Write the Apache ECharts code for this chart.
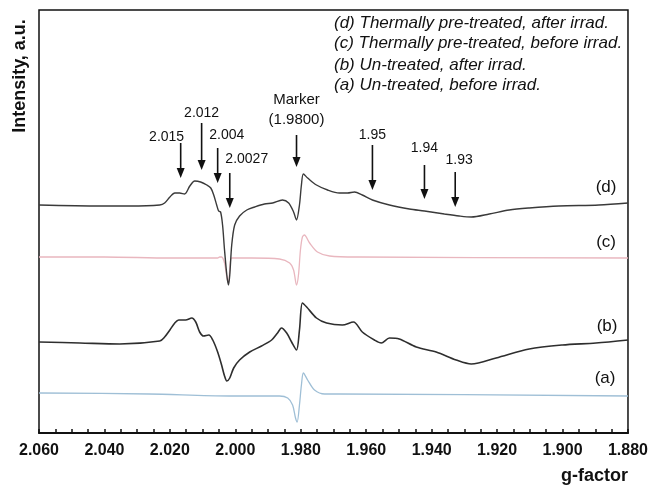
<!DOCTYPE html>
<html><head><meta charset="utf-8">
<script src="https://cdn.jsdelivr.net/npm/echarts@6/dist/echarts.min.js"></script>
<style>html,body{margin:0;padding:0;background:#fff}#c{width:651px;height:489px}</style>
</head><body><div id="c"></div>
<script>
// g-factor axis ticks
const xTicks = [2.060, 2.040, 2.020, 2.000, 1.980, 1.960, 1.940, 1.920, 1.900, 1.880];

// (d) Thermally pre-treated, after irrad.
const gD = [2.060, 2.0414, 2.0322, 2.0231, 2.0216, 2.0200, 2.0185, 2.0170, 2.0155, 2.0139, 2.0124, 2.0106, 2.0087, 2.0075, 2.0066, 2.0057, 2.0051, 2.0045, 2.0039, 2.0033, 2.0026, 2.0021, 2.0017, 2.0011, 2.0002, 1.9987, 1.9965, 1.9941, 1.9911, 1.9886, 1.9856, 1.9837, 1.9822, 1.9813, 1.9804, 1.9798, 1.9792, 1.9779, 1.9752, 1.9718, 1.9682, 1.9657, 1.9636, 1.9612, 1.9581, 1.9529, 1.9468, 1.9422, 1.9361, 1.9316, 1.9279, 1.9224, 1.9163, 1.9102, 1.9011, 1.8889, 1.880];
const vD = [228, 227, 227, 228, 230, 236, 240, 240, 239, 247, 252, 251, 248, 245, 238, 228, 222, 221, 208, 183, 158, 148, 158, 188, 208, 217, 223, 226, 229, 230, 233, 230, 221, 213, 228, 248, 259, 255, 248, 243, 240, 240, 241, 238, 233, 228, 224, 222, 219, 217, 216, 219, 223, 225, 227, 228, 230];

// (c) Thermally pre-treated, before irrad.
const gC = [2.060, 2.040, 2.020, 2.0063, 2.0054, 2.0048, 2.0042, 2.0033, 2.0026, 2.0021, 2.0017, 2.0011, 1.9950, 1.9865, 1.9834, 1.9822, 1.9813, 1.9807, 1.9801, 1.9795, 1.9789, 1.9773, 1.9749, 1.9712, 1.9620, 1.880];
const vC = [176, 176, 175, 175, 175, 176, 176, 170, 156, 150, 163, 175, 175, 174, 170, 163, 148, 158, 183, 196, 198, 190, 181, 177, 176, 175];

// (b) Un-treated, after irrad.
const gB = [2.060, 2.0475, 2.0353, 2.0231, 2.0216, 2.0200, 2.0185, 2.0173, 2.0152, 2.0133, 2.0121, 2.0109, 2.0097, 2.0081, 2.0069, 2.0054, 2.0042, 2.0033, 2.0026, 2.0017, 2.0005, 1.9987, 1.9956, 1.9920, 1.9889, 1.9871, 1.9859, 1.9843, 1.9828, 1.9813, 1.9804, 1.9795, 1.9782, 1.9752, 1.9721, 1.9673, 1.9639, 1.9612, 1.9575, 1.9554, 1.9529, 1.9499, 1.9447, 1.9386, 1.9325, 1.9279, 1.9203, 1.9102, 1.9001, 1.8898, 1.880];
const vB = [91, 90, 89, 92, 96, 103, 110, 113, 113, 115, 111, 101, 97, 98, 93, 81, 68, 57, 52, 55, 65, 73, 81, 87, 93, 100, 105, 100, 91, 83, 103, 130, 126, 115, 110, 108, 111, 101, 93, 90, 95, 94, 86, 81, 73, 69, 75, 84, 88, 90, 93];

// (a) Un-treated, before irrad.
const gA = [2.060, 2.0264, 2.0020, 1.9865, 1.9840, 1.9825, 1.9816, 1.9811, 1.9804, 1.9798, 1.9792, 1.9779, 1.9758, 1.9727, 1.9682, 1.880];
const vA = [40, 39, 37, 37, 35, 28, 15, 11, 28, 48, 60, 53, 43, 39, 39, 37];

// annotation arrows (g position, arrow top, arrow tip) and their labels
const arrowG = [2.0167, 2.0103, 2.0054, 2.0017, 1.9813, 1.9581, 1.9422, 1.9328];
const arrowTop = [290, 310, 285, 260, 298, 288, 268, 261];
const arrowTip = [255, 263, 250, 225, 266, 243, 234, 226];
const noteText = ['2.015', '2.012', '2.004', '2.0027', 'Marker\n(1.9800)', '1.95', '1.94', '1.93'];
const noteG = [2.0210, 2.0103, 2.0026, 1.9965, 1.9813, 1.9581, 1.9422, 1.9316];
const noteY = [296, 320, 298, 274, 323, 298, 285, 273];

// trace tags
const tagText = ['(d)', '(c)', '(b)', '(a)'];
const tagG = [1.8867, 1.8867, 1.8864, 1.8870];
const tagY = [246, 191, 107, 55];

const legendLines = [
  '(d) Thermally pre-treated, after irrad.',
  '(c) Thermally pre-treated, before irrad.',
  '(b) Un-treated, after irrad.',
  '(a) Un-treated, before irrad.'
];

const zip = (g, v) => g.map((x, i) => [x, v[i]]);
const chart = echarts.init(document.getElementById('c'), null, {renderer: 'canvas'});

function lineSeries(name, g, v, color, w) {
  return {
    name, type: 'line', data: zip(g, v), showSymbol: false, smooth: 0.3,
    lineStyle: {color, width: w}, silent: true, animation: false, z: 2
  };
}

const arrowData = arrowG.map((g, i) => [g, arrowTop[i], arrowTip[i], noteG[i], noteY[i]]);
const tagData = tagG.map((g, i) => [g, tagY[i]]);

chart.setOption({
  backgroundColor: '#fff',
  animation: false,
  grid: {left: 39, right: 22, top: 10, bottom: 56, show: true, borderColor: '#111', borderWidth: 1.5, containLabel: false},
  xAxis: {
    type: 'value', inverse: true, min: 1.880, max: 2.060, interval: 0.02,
    splitLine: {show: false},
    axisLine: {show: true, lineStyle: {color: '#111', width: 2}},
    axisTick: {show: true, inside: true, length: 4, lineStyle: {color: '#111', width: 1.5}},
    minorTick: {show: true, splitNumber: 4, length: 4, lineStyle: {color: '#111', width: 1.5}},
    axisLabel: {
      margin: 10, color: '#111', fontFamily: 'Liberation Sans, Arial', fontWeight: 'bold', fontSize: 16,
      formatter: v => { const t = xTicks.find(x => Math.abs(x - v) < 1e-6); return (t !== undefined ? t : v).toFixed(3); }
    }
  },
  yAxis: {
    type: 'value', min: 0, max: 423, show: false
  },
  series: [
    lineSeries('(a)', gA, vA, '#9fbfd6', 1.3),
    lineSeries('(c)', gC, vC, '#e9b7bf', 1.3),
    lineSeries('(b)', gB, vB, '#2e2e2e', 1.6),
    lineSeries('(d)', gD, vD, '#3a3a3a', 1.4),
    {
      type: 'custom', data: arrowData, clip: false, silent: true, z: 5,
      encode: {x: [0, 3], y: [1, 2, 4]},
      renderItem: (params, api) => {
        const i = params.dataIndex;
        const top = api.coord([api.value(0), api.value(1)]);
        const tip = api.coord([api.value(0), api.value(2)]);
        const lab = api.coord([api.value(3), api.value(4)]);
        const head = 10, hw = 4;
        const fs = noteText[i].indexOf('\n') >= 0 ? 15 : 14;
        return {
          type: 'group',
          children: [
            {type: 'line', shape: {x1: top[0], y1: top[1], x2: tip[0], y2: tip[1] - head + 1}, style: {stroke: '#111', lineWidth: 1.6}},
            {type: 'polygon', shape: {points: [[tip[0] - hw, tip[1] - head], [tip[0] + hw, tip[1] - head], [tip[0], tip[1]]]}, style: {fill: '#111'}},
            {type: 'text', x: lab[0], y: lab[1], style: {text: noteText[i], fill: '#111', font: fs + 'px "Liberation Sans", Arial', align: 'center', verticalAlign: 'middle', lineHeight: 20}}
          ]
        };
      }
    },
    {
      type: 'custom', data: tagData, clip: false, silent: true, z: 5,
      renderItem: (params, api) => {
        const p = api.coord([api.value(0), api.value(1)]);
        return {type: 'text', x: p[0], y: p[1], style: {text: tagText[params.dataIndex], fill: '#111', font: '17px "Liberation Sans", Arial', align: 'center', verticalAlign: 'middle'}};
      }
    }
  ],
  graphic: [
    {type: 'text', x: 20, y: 76, rotation: Math.PI / 2, style: {text: 'Intensity, a.u.', fill: '#111', font: 'bold 18px "Liberation Sans", Arial', align: 'center', verticalAlign: 'middle'}},
    {type: 'text', right: 23, top: 467, style: {text: 'g-factor', fill: '#111', font: 'bold 18px "Liberation Sans", Arial'}},
    ...legendLines.map((t, i) => ({type: 'text', left: 334, top: [25, 45, 67, 87][i] - 10, style: {text: t, fill: '#111', font: 'italic 17px "Liberation Sans", Arial'}}))
  ]
});
</script>
</body></html>
